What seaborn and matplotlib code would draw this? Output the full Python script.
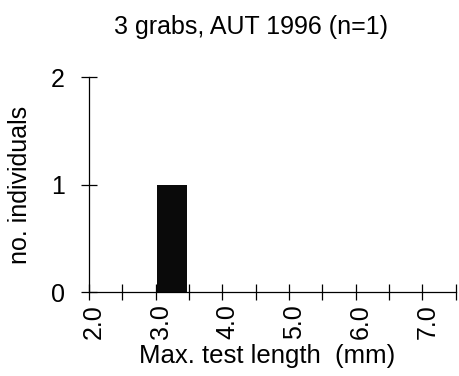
import numpy as np
import pandas as pd
import matplotlib
matplotlib.use("Agg")
import matplotlib.pyplot as plt
import matplotlib.transforms as mtransforms
import seaborn as sns

# Data: counts per 0.5 mm bin of max. test length
bin_starts = [2.0, 2.5, 3.0, 3.5, 4.0, 4.5, 5.0, 5.5, 6.0, 6.5, 7.0]
counts = [0, 0, 1, 0, 0, 0, 0, 0, 0, 0, 0]
tick_labels = ["2.0", "3.0", "4.0", "5.0", "6.0", "7.0"]
title = "3 grabs, AUT 1996 (n=1)"

df = pd.DataFrame({"length": bin_starts, "n": counts})

sns.set_style("ticks")
plt.rcParams['font.family'] = ['Liberation Sans', 'DejaVu Sans']
plt.rcParams.update({"text.color": "black", "axes.labelcolor": "black",
                     "xtick.color": "black", "ytick.color": "black"})

fig = plt.figure(figsize=(4.59, 3.76), dpi=100)
ax = fig.add_axes([0.194, 0.223, 0.799, 0.572])

edges = list(np.arange(2.0, 7.51, 0.5))
sns.histplot(data=df, x="length", weights="n", bins=edges, color="#0a0a0a",
             alpha=1, linewidth=0, shrink=0.9, ax=ax)

ax.set_xlim(2.0, 7.5)
ax.set_ylim(0, 2)
ax.set_xticks(edges)
ax.set_xticklabels([tick_labels[int(e - 2)] if float(e).is_integer() else "" for e in edges],
                   rotation=90, fontsize=18)
ax.set_yticks([0, 1, 2])
ax.set_yticklabels(["0", "1", "2"], fontsize=18)
ax.tick_params(axis="both", direction="inout", length=11, width=0.9, color="black")
ax.tick_params(axis="x", pad=3)
ax.tick_params(axis="y", pad=12)

# shift the rotated x tick labels a bit to the right, as in the original
shift = mtransforms.ScaledTranslation(5 / 100, 0, fig.dpi_scale_trans)
for lab in ax.get_xticklabels():
    lab.set_transform(lab.get_transform() + shift)

sns.despine(ax=ax)
for s in ["left", "bottom"]:
    ax.spines[s].set_linewidth(0.9)
    ax.spines[s].set_color("black")

ax.set_xlabel("Max. test length  (mm)", fontsize=18.5)
ax.xaxis.set_label_coords(0.486, -0.24)
ax.set_ylabel("no. individuals", fontsize=18)
ax.yaxis.set_label_coords(-0.155, 0.5)
ax.set_title(title, fontsize=18, pad=31, x=0.442)

plt.savefig("out.png", dpi=100)
